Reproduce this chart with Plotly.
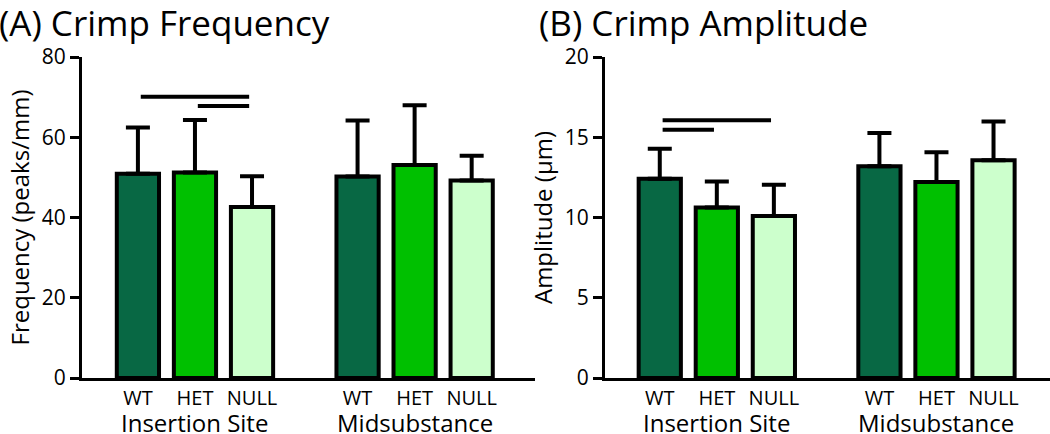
import plotly.graph_objects as go

# data
genotypes = ["WT", "HET", "NULL"]
sites = ["Insertion Site", "Midsubstance"]
colors = ["#086844", "#00c000", "#ccffcc"]

freq_mean = [50.9, 51.2, 42.6, 50.2, 53.1, 49.2]
freq_sd = [11.5, 13.1, 7.7, 14.0, 14.9, 6.2]
amp_mean = [12.42, 10.63, 10.10, 13.19, 12.21, 13.56]
amp_sd = [1.87, 1.62, 1.94, 2.08, 1.85, 2.42]

# significance bars: (from bar, to bar, height)
freq_sig = [(0, 2, 70.1), (1, 2, 67.8)]
amp_sig = [(0, 2, 16.06), (0, 1, 15.46)]

xpos = [0, 1, 2, 3.85, 4.85, 5.85]
FONT = "Open Sans"

fig = go.Figure()

def add_panel(means, sds, xa, ya):
    for k in range(3):
        idx = [k, k + 3]
        fig.add_trace(go.Bar(
            x=[xpos[i] for i in idx], y=[means[i] for i in idx],
            width=0.74, marker=dict(color=colors[k], line=dict(color="black", width=4)),
            error_y=dict(type="data", array=[sds[i] for i in idx], arrayminus=[0, 0],
                         symmetric=False, color="black", thickness=4, width=12),
            xaxis=xa, yaxis=ya, showlegend=False))

add_panel(freq_mean, freq_sd, "x", "y")
add_panel(amp_mean, amp_sd, "x2", "y2")

for sig, xr, yr in [(freq_sig, "x", "y"), (amp_sig, "x2", "y2")]:
    for a, b, h in sig:
        fig.add_shape(type="line", x0=xpos[a] + 0.05, x1=xpos[b] - 0.05, y0=h, y1=h,
                      xref=xr, yref=yr, line=dict(color="black", width=4))

ydom = [56 / 434, 377 / 434]
xcommon = dict(tickvals=xpos, ticktext=genotypes * 2, showline=True, linecolor="black",
               linewidth=3, ticks="", ticklabelstandoff=0,
               tickfont=dict(size=20, color="black"), zeroline=False,
               showgrid=False, automargin=False)
ycommon = dict(showline=True, linecolor="black", linewidth=3, ticks="outside", ticklen=9,
               tickwidth=3, tickcolor="black", tickfont=dict(size=21, color="black"),
               showgrid=False, zeroline=False, domain=ydom, automargin=False,
               title=dict(font=dict(size=24, color="black"), standoff=6))

fig.update_layout(
    width=1050, height=434, margin=dict(l=0, r=0, t=0, b=0),
    plot_bgcolor="white", paper_bgcolor="white", barmode="overlay",
    font=dict(family=FONT, color="black"),
    xaxis=dict(xcommon, domain=[82 / 1050, 535 / 1050], range=[-0.98, 6.96], anchor="y"),
    yaxis=dict(ycommon, range=[0, 80], dtick=20, anchor="x",
               title=dict(ycommon["title"], text="Frequency (peaks/mm)")),
    xaxis2=dict(xcommon, domain=[605 / 1050, 1.0], range=[-0.96, 6.84], anchor="y2"),
    yaxis2=dict(ycommon, range=[0, 20], dtick=5, anchor="x2",
                title=dict(ycommon["title"], text="Amplitude (µm)")),
)

for xr in ["x", "x2"]:
    for g, s in enumerate(sites):
        fig.add_annotation(x=xpos[3 * g + 1], y=0, xref=xr, yref="paper",
                           text=s, showarrow=False, yanchor="bottom", yshift=-7,
                           font=dict(size=24, color="black"))

for txt, x in [("(A) Crimp Frequency", 0), ("(B) Crimp Amplitude", 540 / 1050)]:
    fig.add_annotation(x=x, y=1, xref="paper", yref="paper", text=txt, showarrow=False,
                       xanchor="left", yanchor="top", yshift=3, xshift=-3,
                       font=dict(size=35, color="black"))

# page has a default 8px body margin; drop it so the figure sits at the corner
fig.write_html("out.html", config={"displayModeBar": False},
               post_script="document.body.style.margin='0';")
